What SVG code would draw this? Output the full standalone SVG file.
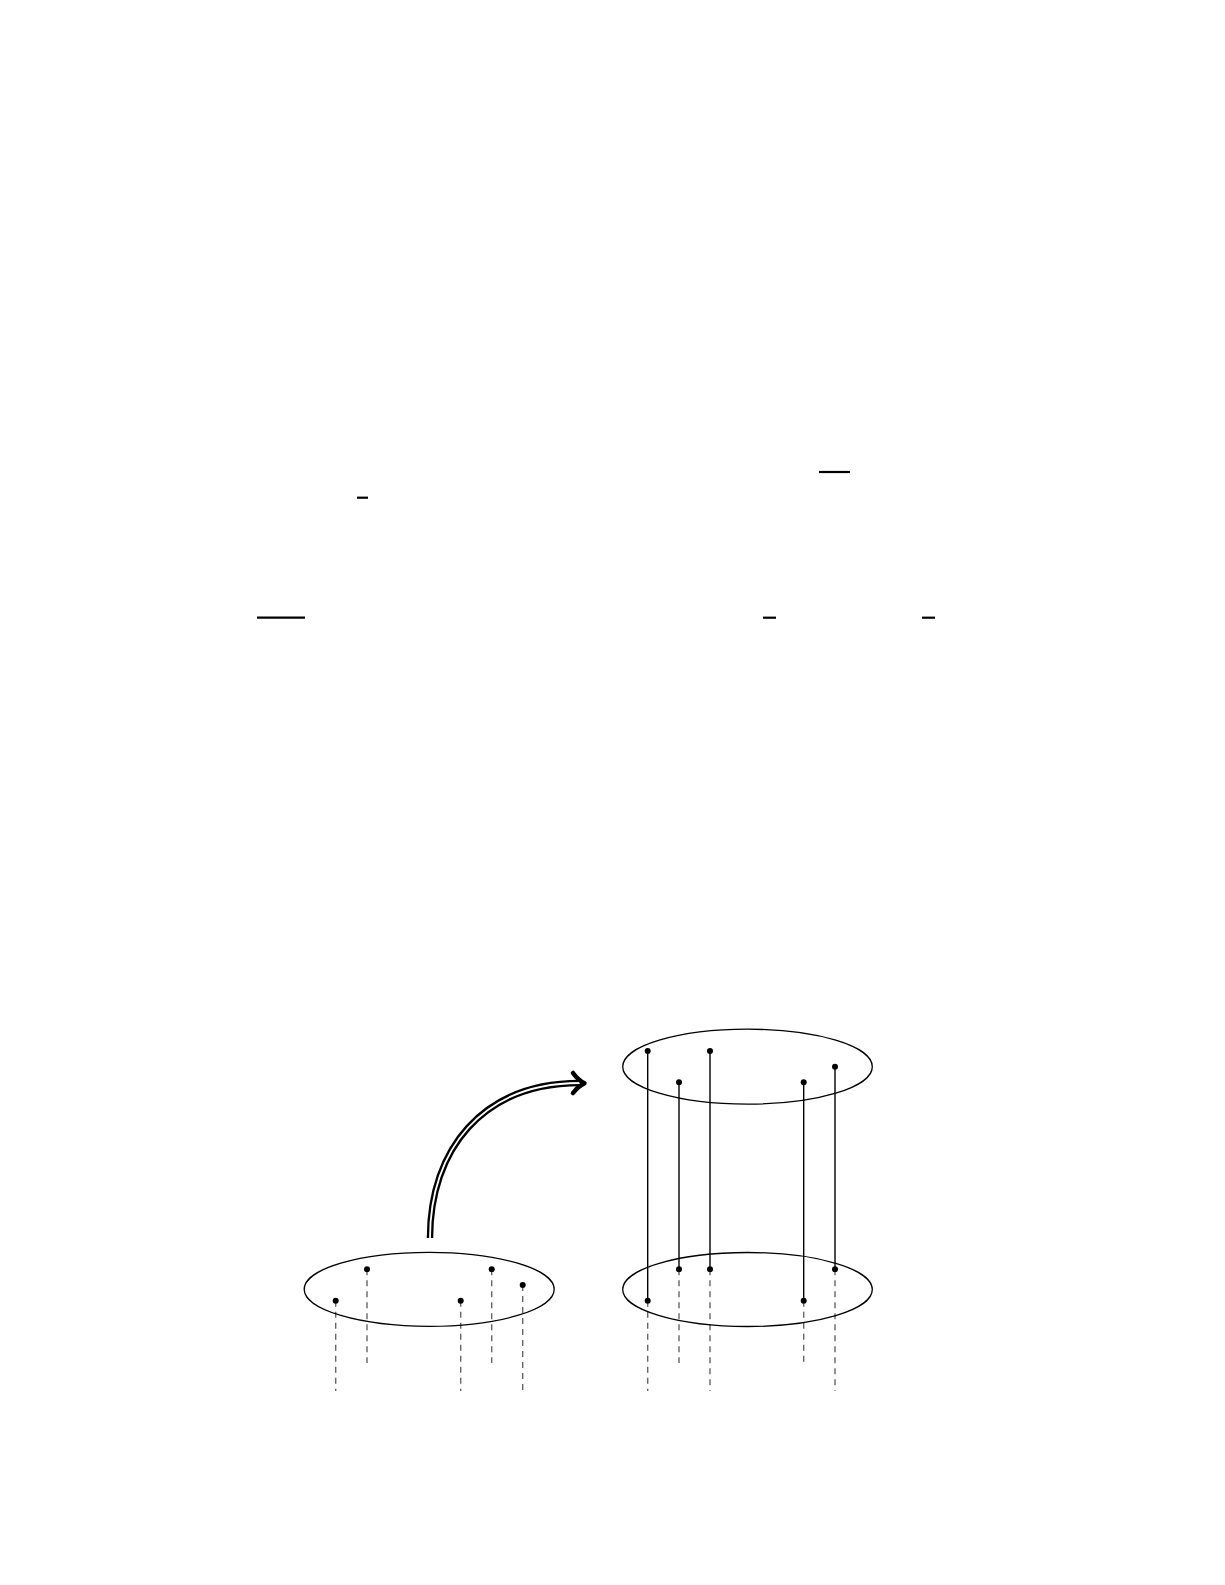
<svg xmlns="http://www.w3.org/2000/svg" width="1225" height="1585" viewBox="0 0 1225 1585">
<style>
.ell{fill:none;stroke:#000;stroke-width:1.3}
.dot{fill:#000}
.solid{stroke:#000;stroke-width:1.4;fill:none}
.dash{stroke:#666;stroke-width:1.4;stroke-dasharray:6 5;fill:none}
.bar{stroke:#000;stroke-width:2.2}
</style>
<rect width="1225" height="1585" fill="#fff"/>
<g id="overlines">
<line class="bar" x1="357" y1="497.7" x2="368" y2="497.7"/>
<line class="bar" x1="257" y1="617.7" x2="305" y2="617.7"/>
<line class="bar" x1="819" y1="472" x2="850" y2="472"/>
<line class="bar" x1="763" y1="617.7" x2="776" y2="617.7"/>
<line class="bar" x1="922" y1="617.7" x2="935" y2="617.7"/>
</g>
<g id="connectors">
<line class="solid" x1="647.7" y1="1051" x2="647.7" y2="1300.7"/>
<line class="solid" x1="679" y1="1082.3" x2="679" y2="1269.3"/>
<line class="solid" x1="710" y1="1051" x2="710" y2="1269.3"/>
<line class="solid" x1="803.7" y1="1082.3" x2="803.7" y2="1300.7"/>
<line class="solid" x1="835" y1="1066.7" x2="835" y2="1269.3"/>
<line class="dash" x1="335.7" y1="1300.7" x2="335.7" y2="1391"/>
<line class="dash" x1="367" y1="1269.3" x2="367" y2="1363"/>
<line class="dash" x1="460.7" y1="1300.7" x2="460.7" y2="1391"/>
<line class="dash" x1="491.7" y1="1269.3" x2="491.7" y2="1363"/>
<line class="dash" x1="522.7" y1="1285" x2="522.7" y2="1391"/>
<line class="dash" x1="647.7" y1="1300.7" x2="647.7" y2="1391"/>
<line class="dash" x1="679" y1="1269.3" x2="679" y2="1363"/>
<line class="dash" x1="710" y1="1269.3" x2="710" y2="1391"/>
<line class="dash" x1="803.7" y1="1300.7" x2="803.7" y2="1363"/>
<line class="dash" x1="835" y1="1269.3" x2="835" y2="1391"/>
<g id="arrow">
<path d="M430,1238 C430,1150 482,1083 580,1083" fill="none" stroke="#000" stroke-width="6.5"/>
<path d="M430,1238 C430,1150 482,1083 580,1083" fill="none" stroke="#fff" stroke-width="1.8"/>
<path d="M573,1073 Q578,1080 584.5,1083.3 Q578,1086.5 573,1093" fill="none" stroke="#000" stroke-width="4.5" stroke-linecap="round" stroke-linejoin="round"/>
</g>
</g>
<g id="ellipse-left">
<ellipse class="ell" cx="429.2" cy="1289.3" rx="125" ry="37"/>
<circle class="dot" cx="335.7" cy="1300.7" r="3"/>
<circle class="dot" cx="367" cy="1269.3" r="3"/>
<circle class="dot" cx="460.7" cy="1300.7" r="3"/>
<circle class="dot" cx="491.7" cy="1269.3" r="3"/>
<circle class="dot" cx="522.7" cy="1285" r="3"/>
</g>
<g id="ellipse-top">
<ellipse class="ell" cx="747.5" cy="1066.7" rx="124.8" ry="37.5"/>
<circle class="dot" cx="647.7" cy="1051" r="3"/>
<circle class="dot" cx="710" cy="1051" r="3"/>
<circle class="dot" cx="679" cy="1082.3" r="3"/>
<circle class="dot" cx="803.7" cy="1082.3" r="3"/>
<circle class="dot" cx="835" cy="1066.7" r="3"/>
</g>
<g id="ellipse-bottom-right">
<ellipse class="ell" cx="747.5" cy="1289.5" rx="124.8" ry="37"/>
<circle class="dot" cx="647.7" cy="1300.7" r="3"/>
<circle class="dot" cx="679" cy="1269.3" r="3"/>
<circle class="dot" cx="710" cy="1269.3" r="3"/>
<circle class="dot" cx="803.7" cy="1300.7" r="3"/>
<circle class="dot" cx="835" cy="1269.3" r="3"/>
</g>
</svg>
